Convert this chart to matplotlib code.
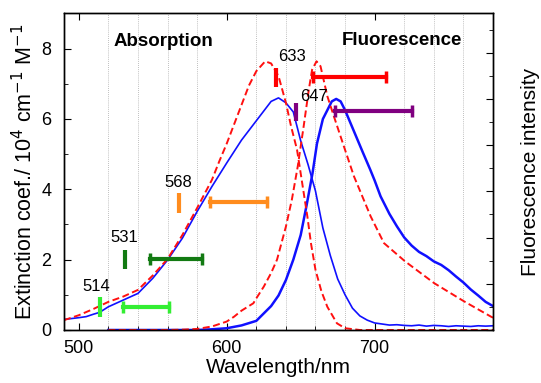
import numpy as np
from matplotlib import pyplot as plt
from matplotlib.ticker import MultipleLocator

plt.rcParams['font.family'] = ['Liberation Sans', 'DejaVu Sans']

# absorption spectra (extinction coef, 10^4 cm-1 M-1)
abs_blue_nm = [490, 500, 505, 510, 514, 520, 530, 540, 550, 560, 570, 580, 590, 600,
               610, 620, 630, 635, 640, 645, 650, 655, 660, 665, 670, 675, 680, 685,
               690, 695, 700, 705, 710, 715, 720, 725, 730, 735, 740, 745, 750, 755,
               760, 765, 770, 775, 780]
abs_blue = [0.3, 0.35, 0.38, 0.45, 0.5, 0.66, 0.85, 1.04, 1.47, 1.99, 2.61, 3.37, 4.08, 4.75,
            5.4, 5.95, 6.5, 6.6, 6.46, 6.2, 5.38, 4.7, 3.95, 2.9, 2.12, 1.45, 1.0, 0.62,
            0.4, 0.28, 0.2, 0.17, 0.14, 0.15, 0.13, 0.12, 0.14, 0.11, 0.13, 0.12, 0.1, 0.12,
            0.11, 0.1, 0.12, 0.11, 0.12]

abs_red_nm = [490, 500, 510, 520, 530, 540, 550, 560, 570, 580, 590, 595, 600, 605, 610, 615,
              620, 626, 630, 635, 640, 643.5, 647.5, 651, 654.5, 657, 660, 664, 668, 674.5,
              680, 690, 700, 740, 780]
abs_red = [0.28, 0.42, 0.6, 0.8, 0.95, 1.14, 1.55, 2.02, 2.7, 3.47, 4.27, 4.8, 5.3, 5.85, 6.4,
           6.95, 7.36, 7.64, 7.58, 7.22, 6.46, 5.79, 5.13, 4.18, 3.23, 2.45, 1.71, 1.1, 0.66,
           0.19, 0.05, 0.0, 0.0, 0.0, 0.0]

# fluorescence spectra (same scale as drawn)
fl_blue_nm = [520, 560, 580, 590, 600, 610, 620, 630, 635, 640, 645, 650, 654, 658, 661,
              665, 668, 671, 674, 677, 680, 684, 688, 692, 697, 700, 704, 710, 715, 720,
              725, 730, 735, 740, 745, 750, 755, 760, 765, 770, 775, 780]
fl_blue = [0.0, 0.0, 0.0, 0.02, 0.05, 0.13, 0.26, 0.68, 0.98, 1.42, 2.0, 2.7, 3.55, 4.46, 5.3,
           6.0, 6.25, 6.5, 6.57, 6.5, 6.25, 5.85, 5.45, 5.05, 4.56, 4.25, 3.8, 3.3, 2.95, 2.63,
           2.4, 2.22, 2.1, 1.95, 1.85, 1.7, 1.52, 1.35, 1.15, 0.98, 0.8, 0.68]

fl_red_nm = [520, 560, 570, 580, 590, 600, 605, 610, 618, 620, 625, 630, 634, 640, 644, 648,
             652, 655.5, 657.7, 660.7, 663.4, 668, 672.4, 679.2, 686, 697.3, 706.3, 720.6,
             740.3, 760.6, 778.6, 780]
fl_red = [0.0, 0.0, 0.01, 0.03, 0.1, 0.24, 0.38, 0.55, 0.76, 0.9, 1.23, 1.62, 2.0, 2.94, 3.7,
          4.65, 5.79, 6.84, 7.4, 7.64, 7.5, 6.65, 6.08, 5.22, 4.37, 3.23, 2.47, 1.95,
          1.33, 0.81, 0.38, 0.35]

# laser lines and emission filter bands
laser_nm = [514, 531, 568, 633, 647]
laser_lo = [0.38, 1.74, 3.32, 6.9, 5.93]
laser_hi = [0.95, 2.28, 3.89, 7.45, 6.46]
label_x = [512, 530.5, 567, 644, 658.8]
label_y = [1.23, 2.62, 4.2, 7.77, 6.63]
filt_lo = [530, 548, 589, 658, 673]
filt_hi = [561, 583, 627, 708, 725]
filt_y = [0.65, 2.01, 3.65, 7.19, 6.22]
bar_colors = ['#33ee33', '#127a12', '#ff8c1e', '#ff0000', '#800080']

fig = plt.figure(figsize=(5.41, 3.83), dpi=100)
ax = fig.add_axes([0.1183, 0.1384, 0.793, 0.8264])

ax.plot(abs_blue_nm, abs_blue, color='#1010ff', lw=1.2)
ax.plot(fl_blue_nm, fl_blue, color='#1010ff', lw=1.8)
ax.plot(abs_red_nm, abs_red, color='#ff1010', lw=1.4, dashes=(3.6, 1.8))
ax.plot(fl_red_nm, fl_red, color='#ff1010', lw=1.4, dashes=(3.6, 1.8))

for i in range(len(laser_nm)):
    c = bar_colors[i]
    ax.plot([laser_nm[i], laser_nm[i]], [laser_lo[i], laser_hi[i]], color=c, lw=3,
            solid_capstyle='butt')
    ax.plot([filt_lo[i], filt_hi[i]], [filt_y[i], filt_y[i]], color=c, lw=3,
            marker='|', markersize=9, mew=2.5)
    ax.text(label_x[i], label_y[i], str(laser_nm[i]), ha='center', va='center', fontsize=12)

ax.text(557, 8.2, 'Absorption', ha='center', va='center', fontsize=13.5, fontweight='bold')
ax.text(718.7, 8.24, 'Fluorescence', ha='center', va='center', fontsize=13.5,
        fontweight='bold')

ax.set_xlim(490, 780)
ax.set_ylim(0, 9.0)
ax.xaxis.set_major_locator(MultipleLocator(100))
ax.xaxis.set_minor_locator(MultipleLocator(20))
ax.yaxis.set_major_locator(MultipleLocator(2))
ax.yaxis.set_minor_locator(MultipleLocator(1))
ax.grid(which='minor', axis='x', color='#aaaaaa', lw=0.6, ls=(0, (1, 1.5)))
ax.tick_params(which='both', direction='in', labelsize=13)
ax.tick_params(axis='x', pad=7)
ax.tick_params(axis='y', pad=9)
ax.tick_params(which='major', length=5, top=True)
ax.tick_params(which='minor', length=3)
ax.tick_params(axis='y', which='both', right=False)

ax.set_xlabel('Wavelength/nm', fontsize=15, labelpad=1)
ax.set_ylabel('Extinction coef./ 10$^4$ cm$^{-1}$ M$^{-1}$', fontsize=15.5, labelpad=3)

ax2 = ax.twinx()
ax2.set_ylim(0, 6.85)
ax2.yaxis.set_major_locator(MultipleLocator(1))
ax2.yaxis.set_minor_locator(MultipleLocator(0.5))
ax2.tick_params(which='both', direction='in', labelright=False)
ax2.tick_params(which='major', length=5)
ax2.tick_params(which='minor', length=3)
ax2.set_ylabel('Fluorescence intensity', fontsize=15, labelpad=20)

for a in (ax, ax2):
    for s in a.spines.values():
        s.set_linewidth(1.0)

fig.savefig('out.png', dpi=100)
